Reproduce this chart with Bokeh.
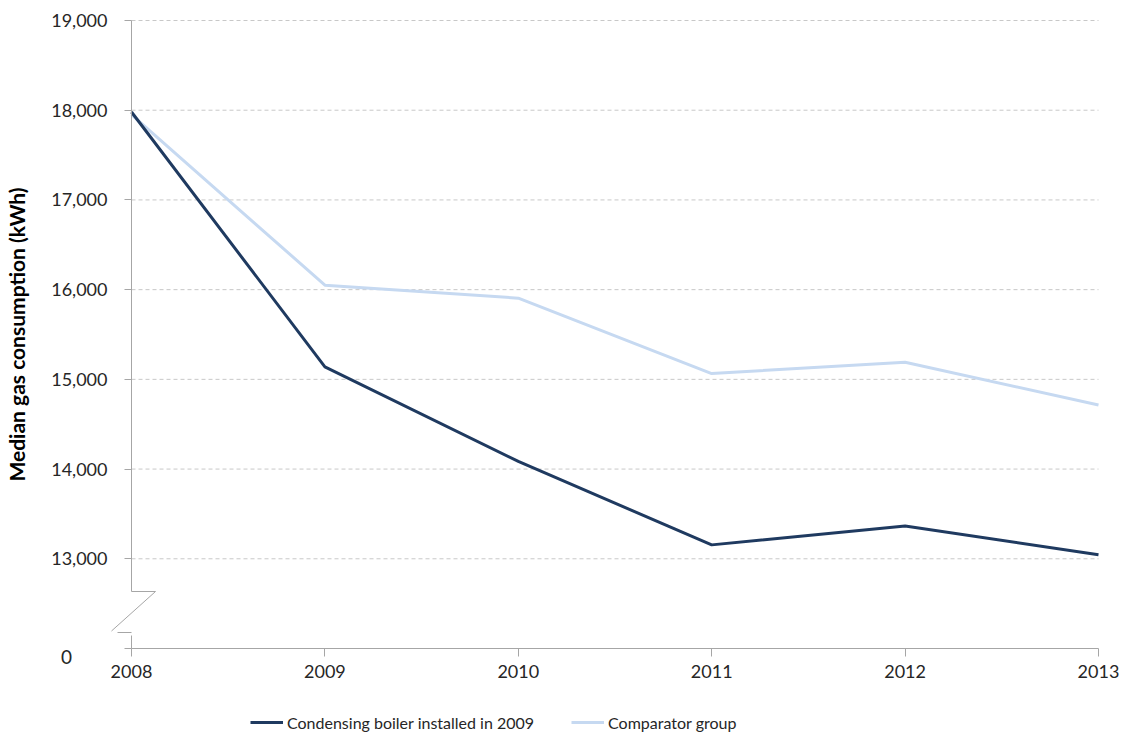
from bokeh.plotting import figure
from bokeh.models import (Range1d, Legend, LegendItem, Label, Arrow,
                          FixedTicker, NumeralTickFormatter)
from bokeh.embed import file_html
from bokeh.resources import INLINE

# Median annual gas consumption (kWh)
years = [2008, 2009, 2010, 2011, 2012, 2013]
condensing = [17980, 15140, 14085, 13155, 13365, 13045]
comparator = [17950, 16050, 15905, 15065, 15190, 14715]
y_ticks = [12000, 13000, 14000, 15000, 16000, 17000, 18000, 19000]

series_names = ["Condensing boiler installed in 2009", "Comparator group"]

FONT = "Lato"
AXIS_GREY = "#A6A6A6"
GRID_GREY = "#C8C8C8"
TEXT = "#262626"
DARK = "#1F3A60"
LIGHT = "#C6D9F1"

W, H = 1126, 740
# plot box inside the canvas (pixels): left, right, top, bottom
BOX_L, BOX_R, BOX_T, BOX_B = 131, 1098, 20, 648

y_lo, y_hi = y_ticks[0], y_ticks[-1]
x_lo, x_hi = years[0], years[-1]
px_x = (x_hi - x_lo) / (BOX_R - BOX_L)
px_y = (y_hi - y_lo) / (BOX_B - BOX_T)

# the frame spans the whole canvas so that the broken axis, the "0"
# label and the legend can sit outside the plot box
p = figure(width=W, height=H,
           x_range=Range1d(x_lo - BOX_L * px_x, x_hi + (W - BOX_R) * px_x),
           y_range=Range1d(y_lo - (H - BOX_B) * px_y, y_hi + BOX_T * px_y),
           output_backend="svg", toolbar_location=None,
           min_border_left=0, min_border_right=0,
           min_border_top=0, min_border_bottom=0)
p.outline_line_color = None
p.background_fill_color = "white"
p.border_fill_color = "white"
p.xgrid.visible = False
p.ygrid.visible = False

# axes pinned to the plot box
p.xaxis.fixed_location = y_lo
p.xaxis.ticker = FixedTicker(ticks=years)
p.xaxis.bounds = (x_lo, x_hi)
p.xaxis.axis_line_color = AXIS_GREY
p.xaxis.major_tick_line_color = AXIS_GREY
p.xaxis.major_tick_in = 0
p.xaxis.major_tick_out = 8
p.xaxis.minor_tick_line_color = None
p.xaxis.major_label_standoff = 8
p.xaxis.major_label_text_font = FONT
p.xaxis.major_label_text_font_size = "18px"
p.xaxis.major_label_text_color = TEXT

p.yaxis.fixed_location = x_lo
p.yaxis.ticker = FixedTicker(ticks=y_ticks)
p.yaxis.bounds = (y_lo, y_hi)
p.yaxis.formatter = NumeralTickFormatter(format="0,0")
p.yaxis.major_label_overrides = {y_lo: ""}
p.yaxis.axis_line_color = None
p.yaxis.major_tick_line_color = AXIS_GREY
p.yaxis.major_tick_in = 0
p.yaxis.major_tick_out = 7
p.yaxis.minor_tick_line_color = None
p.yaxis.major_label_standoff = 17
p.yaxis.major_label_text_font = FONT
p.yaxis.major_label_text_font_size = "18px"
p.yaxis.major_label_text_color = TEXT
p.yaxis.axis_label = "Median gas consumption (kWh)"
p.yaxis.axis_label_text_font = FONT
p.yaxis.axis_label_text_font_style = "bold"
p.yaxis.axis_label_text_font_size = "21px"
p.yaxis.axis_label_text_color = "black"
p.yaxis.axis_label_standoff = 19

# dashed value grid across the plot box
grid_vals = y_ticks[1:]
p.segment(x0=[x_lo] * len(grid_vals), x1=[x_hi] * len(grid_vals),
          y0=grid_vals, y1=grid_vals,
          line_color=GRID_GREY, line_width=1, line_dash="4 3")

# broken value axis: the scale jumps from 0 to 12,000
brk_top = y_lo + 57 * px_y
brk_bot = y_lo + 16 * px_y
brk_parts = [
    (x_lo, y_hi, x_lo, brk_top),
    (x_lo, brk_top, x_lo + 24 * px_x, brk_top),
    (x_lo + 24 * px_x, brk_top, x_lo - 20 * px_x, brk_bot + 1.5 * px_y),
    (x_lo - 14 * px_x, brk_bot, x_lo, brk_bot),
    (x_lo, brk_bot - 3 * px_y, x_lo, y_lo),
]
for xs, ys, xe, ye in brk_parts:
    p.add_layout(Arrow(end=None, x_start=xs, y_start=ys, x_end=xe, y_end=ye,
                       line_color=AXIS_GREY, line_width=1))

p.add_layout(Label(x=x_lo, y=y_lo, text="0", x_offset=-65, y_offset=-8,
                   text_align="center", text_baseline="middle",
                   text_font=FONT, text_font_size="19px", text_color=TEXT))

# series
r_light = p.line(years, comparator, line_color=LIGHT, line_width=3)
r_dark = p.line(years, condensing, line_color=DARK, line_width=3)

legend = Legend(items=[LegendItem(label=series_names[0], renderers=[r_dark]),
                       LegendItem(label=series_names[1], renderers=[r_light])],
                orientation="horizontal", location=(250, 8),
                border_line_color=None, background_fill_alpha=0,
                padding=0, margin=0, spacing=37,
                glyph_width=33, glyph_height=20, label_standoff=4,
                label_text_font=FONT, label_text_font_size="16px",
                label_text_color=TEXT)
p.add_layout(legend)

open("out.html", "w").write(file_html(p, INLINE))
